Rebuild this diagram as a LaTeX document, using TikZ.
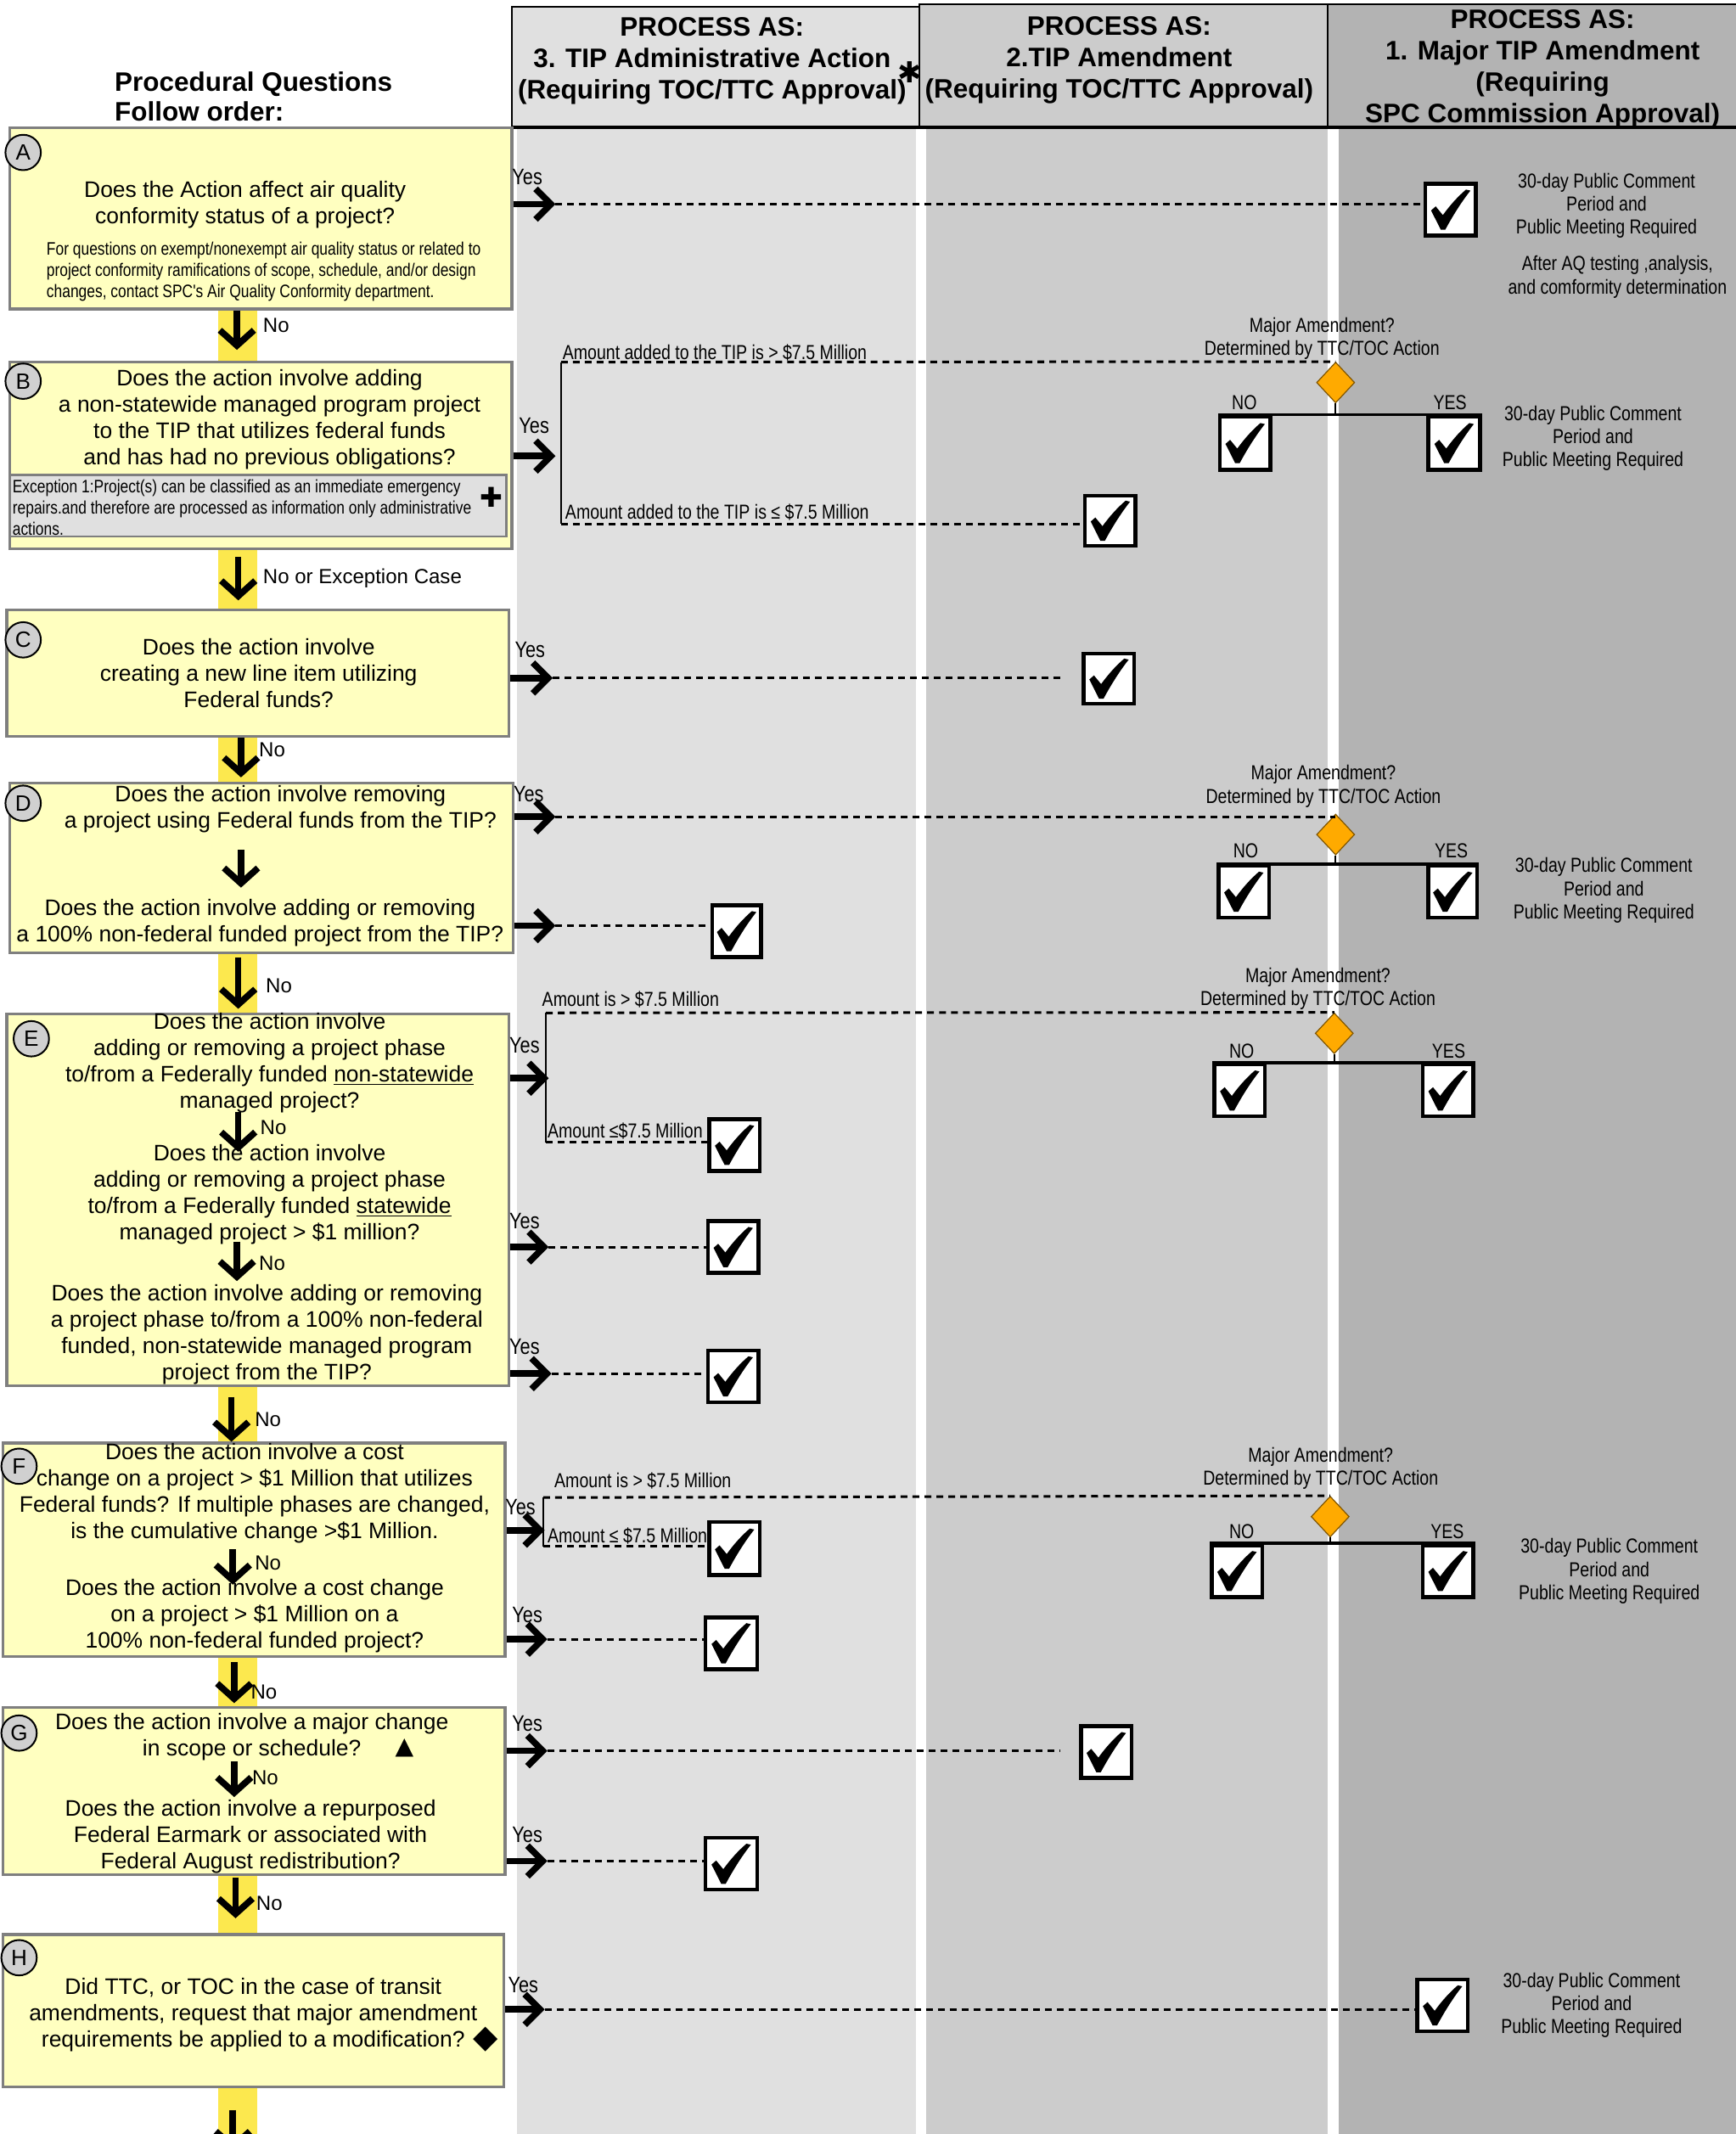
\documentclass[tikz,border=0pt]{standalone}
\usepackage{fontspec}
\setmainfont{Liberation Sans}
\newfontfamily\narf[FakeStretch=0.82]{Liberation Sans}
\newfontfamily\symf{DejaVu Sans}
\usetikzlibrary{arrows.meta,shapes.geometric,fit}
\definecolor{cthree}{HTML}{E0E0E0}
\definecolor{ctwo}{HTML}{CCCCCC}
\definecolor{cone}{HTML}{B3B3B3}
\definecolor{qyel}{HTML}{FFFFC0}
\definecolor{bandyel}{HTML}{FCE84E}
\definecolor{boxgray}{HTML}{7F7F7F}
\definecolor{circgray}{HTML}{D0D0D0}
\definecolor{dorange}{HTML}{FFAA00}
\definecolor{exgray}{HTML}{E0E0E0}
\begin{document}
\begin{tikzpicture}[x=0.8pt,y=-0.8pt,
 qbox/.style={draw=boxgray,line width=1.6pt,fill=qyel,inner sep=0pt},
 exbox/.style={draw=boxgray,line width=1.4pt,fill=exgray,inner sep=0pt},
 hdr/.style={draw=black,line width=1pt,inner sep=0pt},
 hdrtxt/.style={align=center,inner sep=0pt,font=\bfseries\fontsize{15.7}{18.4}\selectfont},
 circ/.style={circle,draw=black,line width=1pt,fill=circgray,minimum size=20.8pt,inner sep=0pt,font=\fontsize{13}{13}\selectfont},
 qtxt/.style={align=center,inner sep=0pt,font=\fontsize{13.2}{15.44}\selectfont},
 smtxt/.style={align=left,anchor=west,inner sep=0pt,font=\narf\fontsize{10.6}{12.4}\selectfont},
 lbl/.style={inner sep=0pt,anchor=west,font=\narf\fontsize{11.9}{13.6}\selectfont},
 lblc/.style={align=center,inner sep=0pt,font=\narf\fontsize{11.9}{13.6}\selectfont},
 yeslbl/.style={inner sep=0pt,anchor=west,font=\narf\fontsize{13.2}{13.2}\selectfont},
 nolbl/.style={inner sep=0pt,anchor=west,font=\fontsize{12}{12}\selectfont},
 chkbox/.style={draw=black,line width=2.2pt,fill=white,inner sep=0pt},
 tick/.pic={\fill[black] (-14.4,0.6) -- (-11,-2.4) -- (-5.75,4) .. controls (-0.6,-3.1) and (5,-9.4) .. (11.25,-14.75)
     -- (14.5,-14) .. controls (6.9,-4.4) and (0.6,6.25) .. (-4,14.75) -- (-7.25,14.75) -- cycle;},
 dia/.style={diamond,draw=black!50!dorange,fill=dorange,line width=0.6pt,minimum width=22.4pt,minimum height=24pt,inner sep=0pt},
 dashl/.style={line width=1.5pt,dash pattern=on 4pt off 3pt},
 rarr/.style={line width=3.8pt,-{Straight Barb[length=9pt,width=18pt]}},
 darr/.style={line width=3.8pt,-{Straight Barb[length=9pt,width=20pt]}},
 brk/.style={line width=1pt},
 bar/.style={line width=1.8pt},
 sym/.style={inner sep=0pt}
]
\useasboundingbox (0,0) rectangle (1275,1567.5);
\fill[white] (0,0) rectangle (1275,1567.5);
% column backgrounds
\fill[cthree] (380,93) rectangle (673,1600);
\fill[ctwo] (680,93) rectangle (975,1600);
\fill[cone] (983,93) rectangle (1280,1600);
% headers
\node[hdr,fill=cthree,fit={(376,5) (675,93)}] (h3) {};
\node[hdr,fill=ctwo,fit={(675,3) (975,93)}] (h2) {};
\node[hdr,fill=cone,fit={(975,3) (1280,93)}] (h1) {};
\draw[line width=2pt] (h3.south west) -- (h1.south east);
\node[hdrtxt] (h3t) at (523,45) {PROCESS AS:\\3. TIP Administrative Action\\(Requiring TOC/TTC Approval)};
\node[hdrtxt] (h2t) at (822,44) {PROCESS AS:\\2.TIP Amendment\\(Requiring TOC/TTC Approval)};
\node[hdrtxt] (h1t) at (1133,50.5) {PROCESS AS:\\1. Major TIP Amendment\\(Requiring\\SPC Commission Approval)};
\node[sym,font=\symf\fontsize{17}{17}\selectfont] (ast) at (668,53) {✱};
\node[anchor=west,align=left,inner sep=0pt,font=\bfseries\fontsize{15.7}{17.6}\selectfont] (pq) at (84,71) {Procedural Questions\\Follow order:};
% yellow band
\fill[bandyel] (160,94) rectangle (189,1600);
% question boxes
\node[qbox,fit={(7,94) (376,227)}] (A) {};
\node[qbox,fit={(7,266) (376,403)}] (B) {};
\node[exbox,fit={(7,349) (372,394)}] (Bex) {};
\node[qbox,fit={(5,448) (374,541)}] (C) {};
\node[qbox,fit={(7,575) (377,700)}] (D) {};
\node[qbox,fit={(5,745) (374,1018)}] (E) {};
\node[qbox,fit={(2,1060) (371,1217)}] (F) {};
\node[qbox,fit={(2,1254) (371,1377)}] (G) {};
\node[qbox,fit={(2,1421) (370,1533)}] (H) {};
% circles
\node[circ] (cirA) at (17,112) {A};
\node[circ] (cirB) at (17,280) {B};
\node[circ] (cirC) at (17,470) {C};
\node[circ] (cirD) at (17,590) {D};
\node[circ] (cirE) at (23,763) {E};
\node[circ] (cirF) at (14,1077) {F};
\node[circ] (cirG) at (14,1273) {G};
\node[circ] (cirH) at (14,1438) {H};
% question texts
\node[qtxt] (tA) at (180,150.5) {Does the Action affect air quality\\conformity status of a project?};
\node[smtxt] (tAs) at (34,199.5) {For questions on exempt/nonexempt air quality status or related to\\project conformity ramifications of scope, schedule, and/or design\\changes, contact SPC's Air Quality Conformity department.};
\node[qtxt] (tB) at (198,308) {Does the action involve adding\\a non-statewide managed program project\\to the TIP that utilizes federal funds\\and has had no previous obligations?};
\node[smtxt] (tBs) at (9,373) {Exception 1:Project(s) can be classified as an immediate emergency\\repairs.and therefore are processed as information only administrative\\actions.};
\node[sym,font=\symf\fontsize{16}{16}\selectfont] (plus) at (361,365) {✚};
\node[qtxt] (tC) at (190,494.5) {Does the action involve\\creating a new line item utilizing\\Federal funds?};
\node[qtxt] (tD1) at (206,594.5) {Does the action involve removing\\a project using Federal funds from the TIP?};
\node[qtxt] (tD2) at (191,678) {Does the action involve adding or removing\\a 100\% non-federal funded project from the TIP?};
\node[qtxt] (tE1) at (198,780.5) {Does the action involve\\adding or removing a project phase\\to/from a Federally funded \underline{non-statewide}\\managed project?};
\node[qtxt] (tE2) at (198,877.5) {Does the action involve\\adding or removing a project phase\\to/from a Federally funded \underline{statewide}\\managed project > \$1 million?};
\node[qtxt] (tE3) at (196,980) {Does the action involve adding or removing\\a project phase to/from a 100\% non-federal\\funded, non-statewide managed program\\project from the TIP?};
\node[qtxt] (tF1) at (187,1097) {Does the action involve a cost\\change on a project > \$1 Million that utilizes\\Federal funds? If multiple phases are changed,\\is the cumulative change >\$1 Million.};
\node[qtxt] (tF2) at (187,1187) {Does the action involve a cost change\\on a project > \$1 Million on a\\100\% non-federal funded project?};
\node[qtxt] (tG1) at (185,1275.5) {Does the action involve a major change\\in scope or schedule?};
\node[sym,font=\symf\fontsize{14}{14}\selectfont] (tri) at (297,1284) {▲};
\node[qtxt] (tG2) at (184,1349) {Does the action involve a repurposed\\Federal Earmark or associated with\\Federal August redistribution?};
\node[qtxt] (tH) at (186,1480) {Did TTC, or TOC in the case of transit\\amendments, request that major amendment\\requirements be applied to a modification?};
\node[sym,font=\symf\fontsize{19}{19}\selectfont] (dmd) at (357,1498) {◆};
% down arrows
\draw[darr] (A.south -| 174,0) -- (174,257);
\draw[darr] (175,409) -- (175,441);
\draw[darr] (C.south -| 177,0) -- (177,571);
\draw[darr] (177,624) -- (177,652);
\draw[darr] (175,703) -- (175,741);
\draw[darr] (175,817) -- (175,846);
\draw[darr] (174,912) -- (174,941);
\draw[darr] (170,1026) -- (170,1059);
\draw[darr] (171,1138) -- (171,1164);
\draw[darr] (172,1221) -- (172,1251);
\draw[darr] (172,1294) -- (172,1320);
\draw[darr] (173,1379) -- (173,1409);
\draw[darr] (171,1550) -- (171,1580);
% No labels
\node[nolbl] (nA) at (193,239) {No};
\node[nolbl] (nB) at (193,425) {No or Exception Case};
\node[nolbl] (nC) at (190,551) {No};
\node[nolbl] (nD) at (195,724) {No};
\node[nolbl] (nE1) at (191,828) {No};
\node[nolbl] (nE2) at (190,928) {No};
\node[nolbl] (nE) at (187,1043) {No};
\node[nolbl] (nF1) at (187,1148) {No};
\node[nolbl] (nF) at (184,1243) {No};
\node[nolbl] (nG1) at (185,1306) {No};
\node[nolbl] (nG) at (188,1398) {No};
\node[nolbl] (nH) at (188,1575) {No};
% check boxes
\node[chkbox,fit={(1047,135) (1084,173)}] (cA) {};
\node[chkbox,fit={(896,306) (933,345)}] (cBn) {};
\node[chkbox,fit={(1049,306) (1087,345)}] (cBy) {};
\node[chkbox,fit={(797,364) (834,401)}] (cB2) {};
\node[chkbox,fit={(796,480) (833,517)}] (cC) {};
\node[chkbox,fit={(895,636) (932,674)}] (cDn) {};
\node[chkbox,fit={(1049,636) (1085,674)}] (cDy) {};
\node[chkbox,fit={(523,665) (559,703)}] (cD2) {};
\node[chkbox,fit={(892,782) (929,820)}] (cEn) {};
\node[chkbox,fit={(1045,782) (1082,820)}] (cEy) {};
\node[chkbox,fit={(521,822) (558,860)}] (cE1) {};
\node[chkbox,fit={(520,897) (557,935)}] (cE2) {};
\node[chkbox,fit={(520,992) (557,1030)}] (cE3) {};
\node[chkbox,fit={(890,1135) (927,1173)}] (cFn) {};
\node[chkbox,fit={(1045,1135) (1082,1173)}] (cFy) {};
\node[chkbox,fit={(521,1118) (558,1157)}] (cF1) {};
\node[chkbox,fit={(518,1188) (556,1226)}] (cF2) {};
\node[chkbox,fit={(794,1268) (831,1306)}] (cG1) {};
\node[chkbox,fit={(518,1350) (556,1388)}] (cG2) {};
\node[chkbox,fit={(1041,1454) (1078,1492)}] (cH) {};
\foreach \n in {cA,cBn,cBy,cB2,cC,cDn,cDy,cD2,cEn,cEy,cE1,cE2,cE3,cFn,cFy,cF1,cF2,cG1,cG2,cH}
  \pic at (\n.center) {tick};
% diamonds
\node[dia] (dB) at (981,281) {};
\node[dia] (dD) at (981,613) {};
\node[dia] (dE) at (980,759) {};
\node[dia] (dF) at (977,1114) {};
% diamond branches
\draw[brk] (dB.south) -- (dB.south |- cBn.north);
\draw[bar] (cBn.north west) -- (cBy.north east);
\draw[brk] (dD.south) -- (dD.south |- cDn.north);
\draw[bar] (cDn.north west) -- (cDy.north east);
\draw[brk] (dE.south) -- (dE.south |- cEn.north);
\draw[bar] (cEn.north west) -- (cEy.north east);
\draw[brk] (dF.south) -- (dF.south |- cFn.north);
\draw[bar] (cFn.north west) -- (cFy.north east);
% Major amendment labels
\node[lblc] (mB) at (971,248.5) {Major Amendment?\\Determined by TTC/TOC Action};
\node[lblc] (mD) at (972,577.5) {Major Amendment?\\Determined by TTC/TOC Action};
\node[lblc] (mE) at (968,726.5) {Major Amendment?\\Determined by TTC/TOC Action};
\node[lblc] (mF) at (970,1078.5) {Major Amendment?\\Determined by TTC/TOC Action};
\node[lblc] (noB) at (914,296) {NO};
\node[lblc] (yesB) at (1065,296) {YES};
\node[lblc] (noD) at (915,625) {NO};
\node[lblc] (yesD) at (1066,625) {YES};
\node[lblc] (noE) at (912,772) {NO};
\node[lblc] (yesE) at (1064,772) {YES};
\node[lblc] (noF) at (912,1125) {NO};
\node[lblc] (yesF) at (1063,1125) {YES};
% public comment texts
\node[lblc] (pA) at (1180,151) {30-day Public Comment\\Period and\\Public Meeting Required};
\node[lblc] (pA2) at (1188,203.5) {After AQ testing ,analysis,\\and comformity determination};
\node[lblc] (pB) at (1170,322) {30-day Public Comment\\Period and\\Public Meeting Required};
\node[lblc] (pD) at (1178,654) {30-day Public Comment\\Period and\\Public Meeting Required};
\node[lblc] (pF) at (1182,1154) {30-day Public Comment\\Period and\\Public Meeting Required};
\node[lblc] (pH) at (1169,1473) {30-day Public Comment\\Period and\\Public Meeting Required};
% Yes labels
\node[yeslbl] (yA) at (376,130) {Yes};
\node[yeslbl] (yB) at (381,313) {Yes};
\node[yeslbl] (yC) at (378,477) {Yes};
\node[yeslbl] (yD) at (377,583) {Yes};
\node[yeslbl] (yE1) at (374,768) {Yes};
\node[yeslbl] (yE2) at (374,897) {Yes};
\node[yeslbl] (yE3) at (374,989) {Yes};
\node[yeslbl] (yF1) at (371,1107) {Yes};
\node[yeslbl] (yF2) at (376,1186) {Yes};
\node[yeslbl] (yG1) at (376,1266) {Yes};
\node[yeslbl] (yG2) at (376,1348) {Yes};
\node[yeslbl] (yH) at (373,1458) {Yes};
% amount labels
\node[lbl] (aB1) at (413,259) {Amount added to the TIP is > \$7.5 Million};
\node[lbl] (aB2) at (415,376) {Amount added to the TIP is ≤ \$7.5 Million};
\node[lbl] (aE1) at (398,734) {Amount is > \$7.5 Million};
\node[lbl] (aE2) at (402,831) {Amount ≤\$7.5 Million};
\node[lbl] (aF1) at (407,1088) {Amount is > \$7.5 Million};
\node[lbl] (aF2) at (402,1128) {Amount ≤ \$7.5 Million};
% brackets
\coordinate (bBt) at (412,266);
\coordinate (bBb) at (412,385);
\coordinate (bEt) at (401,744);
\coordinate (bEb) at (401,839);
\coordinate (bFt) at (399,1100);
\coordinate (bFb) at (399,1136);
\draw[brk] (bBt) -- (bBb);
\draw[brk] (bEt) -- (bEb);
\draw[brk] (bFt) -- (bFb);
\draw[dashl] (bBt) -- (dB.north);
\draw[dashl] (bBb) -- (cB2.west |- bBb);
\draw[dashl] (bEt) -- (dE.north);
\draw[dashl] (bEb) -- (cE1.west |- bEb);
\draw[dashl] (bFt) -- (dF.north);
\draw[dashl] (bFb) -- (cF1.west |- bFb);
% yes arrows and dashed connectors
\draw[rarr] (A.east |- 0,150) -- ++(31,0) coordinate (eA);
\draw[dashl] (eA) -- (cA.west |- eA);
\draw[rarr] (B.east |- 0,335) -- ++(31,0) coordinate (eB);
\draw[rarr] (C.east |- 0,498) -- ++(31,0) coordinate (eC);
\draw[dashl] (eC) -- ([xshift=-12.8pt]cC.west |- eC);
\draw[rarr] (D.east |- 0,600) -- ++(30,0) coordinate (eD1);
\draw[dashl] (eD1) -- (dD.north |- eD1);
\draw[rarr] (D.east |- 0,680) -- ++(30,0) coordinate (eD2);
\draw[dashl] (eD2) -- (cD2.west |- eD2);
\draw[rarr] (E.east |- 0,792) -- ++(28,0) coordinate (eE1);
\draw[rarr] (E.east |- 0,916) -- ++(28,0) coordinate (eE2);
\draw[dashl] (eE2) -- (cE2.west |- eE2);
\draw[rarr] (E.east |- 0,1009) -- ++(30,0) coordinate (eE3);
\draw[dashl] (eE3) -- (cE3.west |- eE3);
\draw[rarr] (F.east |- 0,1124) -- ++(28,0) coordinate (eF1);
\draw[rarr] (F.east |- 0,1204) -- ++(30,0) coordinate (eF2);
\draw[dashl] (eF2) -- (cF2.west |- eF2);
\draw[rarr] (G.east |- 0,1286) -- ++(30,0) coordinate (eG1);
\draw[dashl] (eG1) -- ([xshift=-11.2pt]cG1.west |- eG1);
\draw[rarr] (G.east |- 0,1367) -- ++(30,0) coordinate (eG2);
\draw[dashl] (eG2) -- (cG2.west |- eG2);
\draw[rarr] (H.east |- 0,1476) -- ++(29,0) coordinate (eH);
\draw[dashl] (eH) -- (cH.west |- eH);
\end{tikzpicture}
\end{document}
